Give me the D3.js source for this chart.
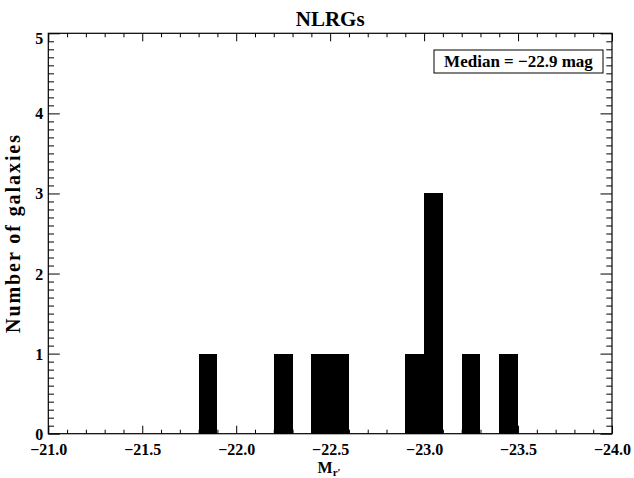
<!DOCTYPE html>
<html>
<head>
<meta charset="utf-8">
<script src="https://cdn.jsdelivr.net/npm/d3@7"></script>
<style>
  html, body { margin: 0; padding: 0; background: #fff; }
  svg { display: block; }
  text { font-family: "Liberation Serif", "Times New Roman", serif; font-weight: bold; fill: #000; }
</style>
</head>
<body>
<svg id="chart" width="634" height="478"></svg>
<script>
// ---- data ----
const binStart = [-21.8, -22.2, -22.4, -22.5, -22.9, -23.0, -23.2, -23.4];
const binWidth = 0.1;
const counts   = [1, 1, 1, 1, 1, 3, 1, 1];
const xMajorTicks = [-21.0, -21.5, -22.0, -22.5, -23.0, -23.5, -24.0];
const yMajorTicks = [0, 1, 2, 3, 4, 5];
const titleText = "NLRGs";
const yTitle = "Number of galaxies";
const medianText = "Median = \u221222.9 mag";

(function () {
// ---- layout ----
const pL = 48.3, pR = 612, pT = 33.3, pB = 433.7;
const svg = d3.select("#chart");

const x = d3.scaleLinear().domain([-21, -24]).range([pL, pR]);
const y = d3.scaleLinear().domain([0, 5]).range([pB, pT]);

const xMinor = d3.range(0, 31).map(i => -21 - i * 0.1).filter((v, i) => i % 5 !== 0);
const yMinor = d3.range(0, 51).map(i => i * 0.1).filter((v, i) => i % 10 !== 0);

// bars
svg.append("g").selectAll("rect")
  .data(binStart.map((s, i) => ({ s, e: s - binWidth, c: counts[i] })))
  .join("rect")
  .attr("x", d => x(d.s))
  .attr("width", d => x(d.e) - x(d.s))
  .attr("y", d => y(d.c))
  .attr("height", d => y(0) - y(d.c))
  .attr("fill", "#000")
  .attr("shape-rendering", "crispEdges");

// axes (ticks pointing inward)
function styleAxis(g) {
  g.select(".domain").remove();
  g.selectAll("line").attr("stroke", "#000").attr("stroke-width", 1);
}
const fmtX = d3.format(".1f");

svg.append("g").attr("transform", `translate(0,${pB})`)
  .call(d3.axisBottom(x).tickValues(xMajorTicks).tickSize(-8).tickFormat(fmtX))
  .call(styleAxis)
  .call(g => g.selectAll("text").attr("font-size", 16).attr("fill", "#000")
    .attr("font-family", "Liberation Serif").attr("font-weight", "bold").attr("dy", 0).attr("y", 21.5));
svg.append("g").attr("transform", `translate(0,${pB})`)
  .call(d3.axisBottom(x).tickValues(xMinor).tickSize(-4).tickFormat(""))
  .call(styleAxis);
svg.append("g").attr("transform", `translate(0,${pT})`)
  .call(d3.axisTop(x).tickValues(xMajorTicks).tickSize(-8).tickFormat(""))
  .call(styleAxis);
svg.append("g").attr("transform", `translate(0,${pT})`)
  .call(d3.axisTop(x).tickValues(xMinor).tickSize(-4).tickFormat(""))
  .call(styleAxis);

svg.append("g").attr("transform", `translate(${pL},0)`)
  .call(d3.axisLeft(y).tickValues(yMajorTicks).tickSize(-11.5).tickFormat(""))
  .call(styleAxis);
svg.append("g").attr("transform", `translate(${pL},0)`)
  .call(d3.axisLeft(y).tickValues(yMinor).tickSize(-5.7).tickFormat(""))
  .call(styleAxis);
svg.append("g").attr("transform", `translate(${pR},0)`)
  .call(d3.axisRight(y).tickValues(yMajorTicks).tickSize(-11.5).tickFormat(""))
  .call(styleAxis);
svg.append("g").attr("transform", `translate(${pR},0)`)
  .call(d3.axisRight(y).tickValues(yMinor).tickSize(-5.7).tickFormat(""))
  .call(styleAxis);

// y tick labels
svg.append("g").selectAll("text")
  .data(yMajorTicks)
  .join("text")
  .attr("x", pL - 5)
  .attr("y", d => Math.max(y(d) + 6, pT + 10.7))
  .attr("text-anchor", "end")
  .attr("font-size", 16)
  .text(d => d);

// frame
svg.append("rect")
  .attr("x", pL).attr("y", pT)
  .attr("width", pR - pL).attr("height", pB - pT)
  .attr("fill", "none").attr("stroke", "#000").attr("stroke-width", 1.2);

// title
svg.append("text").attr("x", (pL + pR) / 2).attr("y", 26)
  .attr("text-anchor", "middle").attr("font-size", 21).text(titleText);

// x title M_r'
const xt = svg.append("text").attr("x", (pL + pR) / 2 - 1).attr("y", 472.5)
  .attr("text-anchor", "middle").attr("font-size", 16);
xt.append("tspan").text("M");
xt.append("tspan").attr("font-size", 11).attr("dy", 3).text("r\u2032");

// y title
svg.append("text")
  .attr("transform", `translate(20,234) rotate(-90)`)
  .attr("text-anchor", "middle").attr("font-size", 20)
  .attr("textLength", 198).attr("lengthAdjust", "spacing")
  .text(yTitle);

// median box
svg.append("rect").attr("x", 434).attr("y", 50).attr("width", 169).attr("height", 23)
  .attr("fill", "#fff").attr("stroke", "#000").attr("stroke-width", 1);
svg.append("text").attr("x", 518.5).attr("y", 66.5).attr("text-anchor", "middle")
  .attr("font-size", 17).text(medianText);
})();
</script>
</body>
</html>
